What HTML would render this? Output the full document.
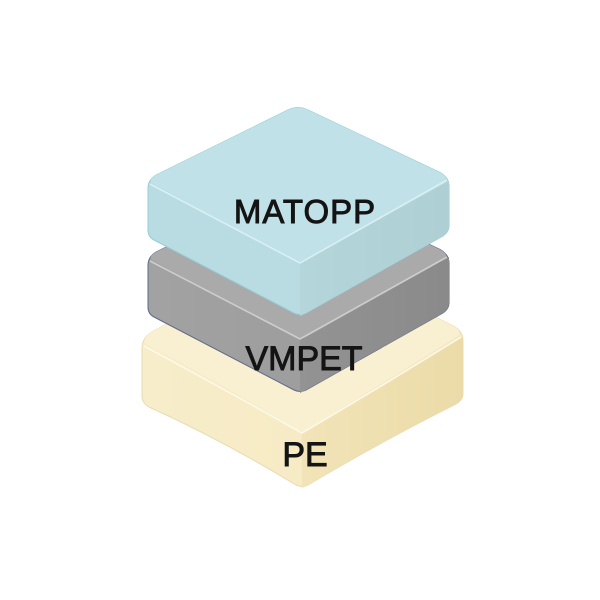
<!DOCTYPE html>
<html><head><meta charset="utf-8"><style>
html,body{margin:0;padding:0;background:#fff;}
svg{display:block;}
text{font-family:"Liberation Sans","Noto Sans CJK JP",sans-serif;fill:#141414;stroke:#141414;stroke-width:0.9px;text-anchor:middle;}
</style></head><body>
<svg width="600" height="600" viewBox="0 0 600 600" xmlns="http://www.w3.org/2000/svg">
<defs>
<linearGradient id="peL" x1="0" y1="0" x2="1" y2="0">
<stop offset="0" stop-color="#f7edca"/><stop offset="1" stop-color="#f6e9c0"/></linearGradient>
<linearGradient id="peR" x1="0" y1="0" x2="1" y2="0">
<stop offset="0" stop-color="#f2e4b8"/><stop offset="1" stop-color="#ebdba8"/></linearGradient>
<linearGradient id="gL" x1="0" y1="0" x2="1" y2="0">
<stop offset="0" stop-color="#a2a2a2"/><stop offset="1" stop-color="#999"/></linearGradient>
<linearGradient id="gR" x1="0" y1="0" x2="1" y2="0">
<stop offset="0" stop-color="#939393"/><stop offset="1" stop-color="#8a8a8a"/></linearGradient>
<linearGradient id="cR" x1="0" y1="0" x2="1" y2="0">
<stop offset="0" stop-color="#b4d6da"/><stop offset="1" stop-color="#aed0d4"/></linearGradient>
</defs>

<!-- PE block -->
<path d="M142,348 Q142,338 152,332 L292,254 Q302,249 312,254 L453,326 Q463,331 463,341 L463,394 Q463,400 456,404 Q384,440 308,485 Q302,488 296,485 Q222,440 149,407 Q142,403 142,396 Z" fill="url(#peL)" stroke="#eadcae" stroke-width="1"/>
<path d="M302,433 Q384,385 463,337 L463,394 Q463,400 456,404 Q384,440 308,485 Q302,488 302,488 Z" fill="url(#peR)"/>
<path d="M146,344 Q142,338 152,332 L292,254 Q302,249 312,254 L453,326 Q463,331 458,336 Q384,382 308,429 Q302,433 296,429 Q222,384 146,344 Z" fill="#f9f0d2"/>
<path d="M144,346 Q222,388 302,433 Q384,385 461,337" fill="none" stroke="#fdf8e8" stroke-width="1.6"/>

<!-- VMPET block -->
<path d="M148,265 Q148,257 156,252 L288,187 Q298,182 308,187 L441,250 Q449,255 449,263 L449,303 Q449,309 443,313 L306,390 Q300,393 294,390 L154,317 Q148,314 148,307 Z" fill="url(#gL)" stroke="#5f6a8a" stroke-width="1"/>
<path d="M300,339 L449,257 L449,303 Q449,309 443,313 L306,390 Q300,393 300,393 Z" fill="url(#gR)"/>
<path d="M152,260 Q148,257 156,252 L288,187 Q298,182 308,187 L441,250 Q449,255 445,259 L306,337 Q300,340 294,337 Z" fill="#aaaaaa"/>
<path d="M150,261 L300,339 L447,257" fill="none" stroke="#cdcdcd" stroke-width="1.6"/>

<!-- MATOPP block -->
<path d="M148,188 Q148,180 156,175 L288,110 Q298,105 308,110 L441,173 Q449,178 449,186 L449,226 Q449,232 443,236 L306,313 Q300,316 294,313 L154,240 Q148,237 148,230 Z" fill="#b9dce2" stroke="#97cdd7" stroke-width="1"/>
<path d="M300,263 L449,181 L449,226 Q449,232 443,236 L306,313 Q300,316 300,316 Z" fill="url(#cR)"/>
<path d="M152,183 Q148,180 156,175 L288,110 Q298,105 308,110 L441,173 Q449,178 445,182 L306,260 Q300,263 294,260 Z" fill="#c0e1e7"/>
<path d="M150,184 L300,263 L447,180" fill="none" stroke="#d8f0f4" stroke-width="1.6"/>

<text x="305" y="223" font-size="33" letter-spacing="1">MATOPP</text>
<text x="304" y="370" font-size="34">VMPET</text>
<text x="305" y="466" font-size="34">PE</text>
</svg>
</body></html>
